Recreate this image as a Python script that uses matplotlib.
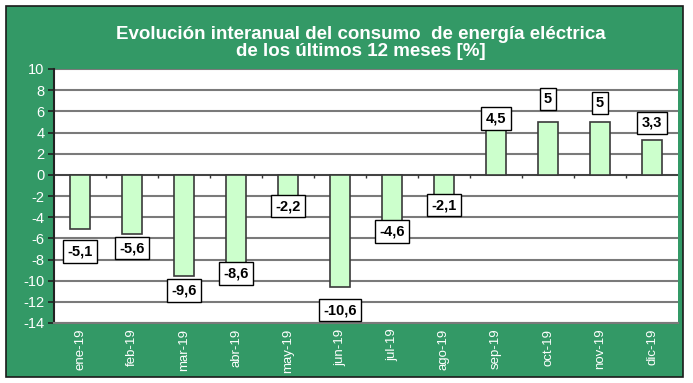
import matplotlib
matplotlib.use("Agg")
import matplotlib.pyplot as plt
from matplotlib.patches import Rectangle
import numpy as np

months = ["ene-19", "feb-19", "mar-19", "abr-19", "may-19", "jun-19",
          "jul-19", "ago-19", "sep-19", "oct-19", "nov-19", "dic-19"]
values = [-5.1, -5.6, -9.6, -8.6, -2.2, -10.6, -4.6, -2.1, 4.5, 5, 5, 3.3]
value_labels = ["-5,1", "-5,6", "-9,6", "-8,6", "-2,2", "-10,6",
                "-4,6", "-2,1", "4,5", "5", "5", "3,3"]
yticks = [10, 8, 6, 4, 2, 0, -2, -4, -6, -8, -10, -12, -14]
title = "Evolución interanual del consumo  de energía eléctrica\nde los últimos 12 meses [%]"

# label offsets (pixels, downward positive) relative to bar end
label_offsets = [23, 14, 14, 8, 8, 23, 8, 8, -9, -23, -19, -17]

GREEN = "#339966"
font = ["Liberation Sans Narrow", "Liberation Sans", "DejaVu Sans"]
plt.rcParams["font.family"] = font

fig = plt.figure(figsize=(6.93, 3.83), dpi=100)
fig.patch.set_facecolor("white")
fig.patches.append(Rectangle((6 / 693, 1 - 377 / 383), 677 / 693, 371 / 383,
                             transform=fig.transFigure, facecolor=GREEN,
                             edgecolor="#1a1a1a", linewidth=1.2, zorder=-5))

ax = fig.add_axes([54 / 693, 1 - 323 / 383, 624 / 693, 254 / 383])
ax.set_zorder(2)
ax.set_facecolor("white")
x = np.arange(len(months))
ax.bar(x, values, width=0.4, color="#CCFFCC", edgecolor="#3a3a3a", linewidth=1.2, zorder=3)
ax.set_xlim(-0.5, len(months) - 0.5)
ax.set_ylim(-14, 10)
ax.set_yticks(yticks)
ax.set_yticklabels([str(t) for t in yticks], color="white", fontsize=10.5)
ax.set_xticks(x)
ax.set_xticklabels(months, rotation=90, color="white", fontsize=9.5)
ax.tick_params(axis="x", length=0, pad=4)
ax.tick_params(axis="y", length=4, width=1.2, color="#222222", pad=3)
for t in yticks:
    ax.axhline(t, color="#7a7a7a", linewidth=1.5, zorder=1)
ax.axhline(0, color="#3a3a3a", linewidth=1.2, zorder=2)
ax.vlines(x[:-1] + 0.5, -0.3, 0.0, color="#333333", linewidth=1.0, zorder=2)
for s in ["top", "right"]:
    ax.spines[s].set_visible(False)
ax.spines["left"].set_color("#222222")
ax.spines["left"].set_linewidth(1.5)
ax.spines["bottom"].set_color("#7a7a7a")
ax.spines["bottom"].set_linewidth(1.5)

for xi, v, lab, off in zip(x, values, value_labels, label_offsets):
    ax.annotate(lab, xy=(xi, v), xytext=(0, -off * 0.72), textcoords="offset points",
                ha="center", va="center", fontsize=10.5, fontweight="bold", color="black",
                bbox=dict(boxstyle="square,pad=0.3", facecolor="white", edgecolor="black", linewidth=1.0),
                zorder=5, family=["Liberation Sans", "DejaVu Sans"])

fig.text(361 / 693, 1 - 43 / 383, title, ha="center", va="center", color="white",
         fontsize=13.5, fontweight="bold", family=["Liberation Sans", "DejaVu Sans"], linespacing=1.05)

fig.savefig("out.png", dpi=100, facecolor=fig.get_facecolor())
